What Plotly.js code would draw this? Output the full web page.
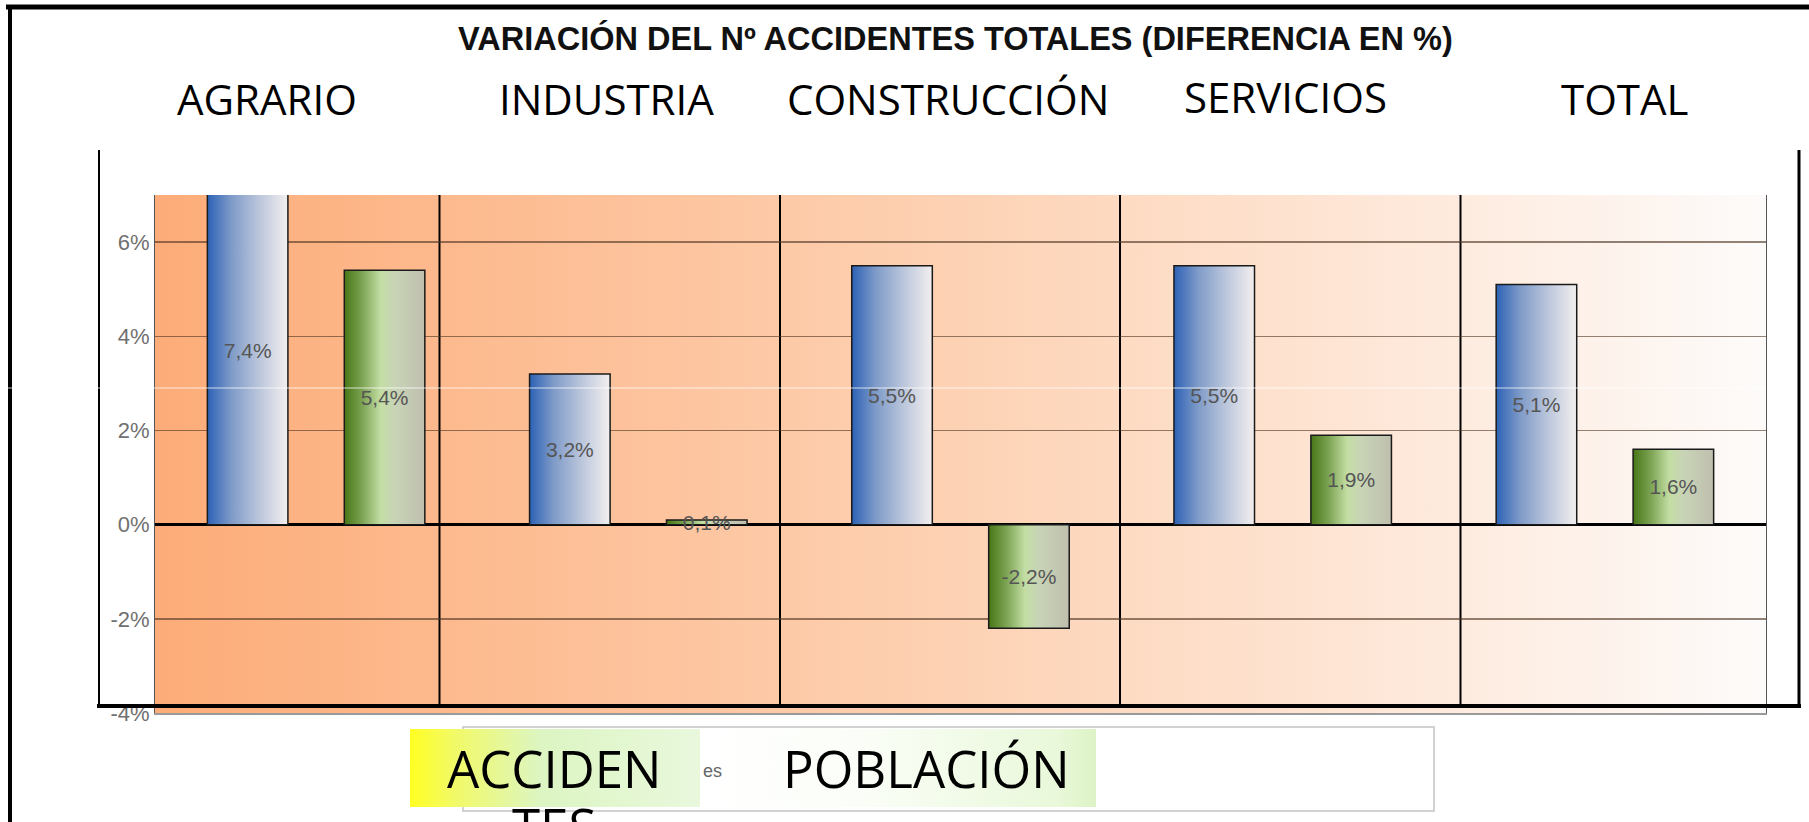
<!DOCTYPE html>
<html>
<head>
<meta charset="utf-8">
<script src="https://cdn.plot.ly/plotly-3.0.1.min.js"></script>
<style>
  html, body { margin: 0; padding: 0; background: #fff; }
  #chart { width: 1809px; height: 822px; }
</style>
</head>
<body>
<div id="chart"></div>
<script>
const CHART = document.getElementById("chart");

// data
var categories = ["Agrario", "Industria", "Construcción", "Servicios", "Total"];
var accidentes = [7.4, 3.2, 5.5, 5.5, 5.1];
var poblacion = [5.4, 0.1, -2.2, 1.9, 1.6];
var headerLabels = ["AGRARIO", "INDUSTRIA", "CONSTRUCCIÓN", "SERVICIOS", "TOTAL"];
var yTickVals = [-4, -2, 0, 2, 4, 6];
var yTickText = ["-4%", "-2%", "0%", "2%", "4%", "6%"];

// page geometry (pixels)
var W = 1809, H = 822;
var M = { l: 155, r: 43, t: 195, b: 109 };
function px(x) { return (x - M.l) / (W - M.l - M.r); }
function py(y) { return (H - M.b - y) / (H - M.t - M.b); }

function pct(v) { return v.toFixed(1).replace(".", ",") + "%"; }

var headerX = [267, 606, 948, 1285, 1624];
var headerY = [98, 98, 98, 96, 98];

var traces = [
    {
        type: "bar",
        name: "ACCIDENTES",
        x: categories,
        y: accidentes,
        text: accidentes.map(pct),
        width: 0.25,
        offset: -0.3375,
        marker: { color: "#7f9bc8", line: { color: "#1a1a1a", width: 1.5 } },
        textposition: "inside",
        insidetextanchor: "middle",
        constraintext: "none",
        textangle: 0,
        insidetextfont: { family: "Liberation Sans, Arial, sans-serif", size: 21, color: "#555" },
        hoverinfo: "skip"
    },
    {
        type: "bar",
        name: "POBLACIÓN",
        x: categories,
        y: poblacion,
        text: poblacion.map(pct),
        width: 0.25,
        offset: 0.0875,
        marker: { color: "#9dbb7a", line: { color: "#1a1a1a", width: 1.5 } },
        textposition: "inside",
        insidetextanchor: "middle",
        constraintext: "none",
        textangle: 0,
        insidetextfont: { family: "Liberation Sans, Arial, sans-serif", size: 21, color: "#555" },
        hoverinfo: "skip"
    }
];

var annotations = [
    {
        text: "<b>VARIACIÓN DEL Nº ACCIDENTES TOTALES (DIFERENCIA EN %)</b>",
        xref: "paper", yref: "paper", x: px(955), y: py(38),
        xanchor: "center", yanchor: "middle", showarrow: false,
        font: { family: "Liberation Sans, Arial, sans-serif", size: 32.5, color: "#111" }
    },
    {
        text: "ACCIDEN",
        xref: "paper", yref: "paper", x: px(554), y: py(768),
        xanchor: "center", yanchor: "middle", showarrow: false,
        font: { family: "Open Sans, sans-serif", size: 51, color: "#000" }
    },
    {
        text: "TES",
        xref: "paper", yref: "paper", x: px(554), y: py(826),
        xanchor: "center", yanchor: "middle", showarrow: false,
        font: { family: "Open Sans, sans-serif", size: 51, color: "#000" }
    },
    {
        text: "POBLACIÓN",
        xref: "paper", yref: "paper", x: px(926), y: py(768),
        xanchor: "center", yanchor: "middle", showarrow: false,
        font: { family: "Open Sans, sans-serif", size: 51, color: "#000" }
    },
    {
        text: "es",
        xref: "paper", yref: "paper", x: px(712), y: py(771),
        xanchor: "center", yanchor: "middle", showarrow: false,
        font: { family: "Liberation Sans, Arial, sans-serif", size: 18, color: "#666" }
    }
];
headerLabels.forEach(function (lab, i) {
    annotations.push({
        text: lab,
        xref: "paper", yref: "paper", x: px(headerX[i]), y: py(headerY[i]),
        xanchor: "center", yanchor: "middle", showarrow: false,
        font: { family: "Open Sans, sans-serif", size: 42, color: "#000" }
    });
});

function hline(y, x0, x1, color, width, layer) {
    return { type: "line", xref: "paper", yref: "paper", x0: px(x0), x1: px(x1), y0: py(y), y1: py(y),
             line: { color: color, width: width }, layer: layer || "above" };
}
function vline(x, y0, y1, color, width, layer) {
    return { type: "line", xref: "paper", yref: "paper", x0: px(x), x1: px(x), y0: py(y0), y1: py(y1),
             line: { color: color, width: width }, layer: layer || "above" };
}

var shapes = [
    // legend frame (0) and the two coloured label boxes (1, 2)
    { type: "rect", xref: "paper", yref: "paper", x0: px(463), x1: px(1434), y0: py(727), y1: py(811),
      fillcolor: "#fff", line: { color: "#c4c4c4", width: 1.5 }, layer: "below" },
    { type: "rect", xref: "paper", yref: "paper", x0: px(410), x1: px(700), y0: py(729), y1: py(807),
      fillcolor: "#eef86a", line: { width: 0 }, layer: "below" },
    { type: "rect", xref: "paper", yref: "paper", x0: px(700), x1: px(1096), y0: py(729), y1: py(807),
      fillcolor: "#f2fbe8", line: { width: 0 }, layer: "below" },
    // dividers inside the plot
    vline(439.5, 195, 706, "#000", 2, "below"),
    vline(780, 195, 706, "#000", 2, "below"),
    vline(1120, 195, 706, "#000", 2, "below"),
    vline(1460.5, 195, 706, "#000", 2, "below"),
    // frame of the slide
    hline(7, 6, 1809, "#000", 5),
    vline(10, 5, 822, "#000", 4),
    vline(99, 150, 706, "#000", 2),
    vline(1799, 150, 706, "#000", 3),
    hline(706, 97, 1801, "#000", 4),
    hline(388, 8, 1766, "rgba(255,255,255,0.75)", 1)
];

var layout = {
    width: W,
    height: H,
    margin: M,
    paper_bgcolor: "#fff",
    plot_bgcolor: "#fdd0b0",
    showlegend: false,
    barmode: "overlay",
    xaxis: {
        type: "category",
        range: [-0.5, 4.5],
        showticklabels: false,
        showgrid: false,
        zeroline: false,
        showline: true,
        linecolor: "#9a9a9a",
        linewidth: 1.5,
        fixedrange: true
    },
    yaxis: {
        range: [-4, 7],
        tickvals: yTickVals,
        ticktext: yTickText,
        tickfont: { family: "Liberation Sans, Arial, sans-serif", size: 22, color: "#707070" },
        showgrid: true,
        gridcolor: "rgba(80,55,35,0.62)",
        gridwidth: 1.5,
        zeroline: true,
        zerolinecolor: "#000",
        zerolinewidth: 3.5,
        showline: true,
        mirror: true,
        linecolor: "#555",
        linewidth: 1,
        ticks: "",
        fixedrange: true
    },
    annotations: annotations,
    shapes: shapes
};

function addGradient(defs, id, stops) {
    var NS = "http://www.w3.org/2000/svg";
    var g = document.createElementNS(NS, "linearGradient");
    g.setAttribute("id", id);
    g.setAttribute("x1", "0"); g.setAttribute("x2", "1");
    g.setAttribute("y1", "0"); g.setAttribute("y2", "0");
    stops.forEach(function (s) {
        var st = document.createElementNS(NS, "stop");
        st.setAttribute("offset", s[0]);
        st.setAttribute("stop-color", s[1]);
        g.appendChild(st);
    });
    defs.appendChild(g);
}

Plotly.newPlot(CHART, traces, layout, { staticPlot: true }).then(function (gd) {
    var svg = gd.querySelector(".main-svg");
    var defs = document.createElementNS("http://www.w3.org/2000/svg", "defs");
    svg.insertBefore(defs, svg.firstChild);

    addGradient(defs, "gBg", [[0, "#fcac78"], [0.2, "#fdbb90"], [0.5, "#fdd2b4"], [0.75, "#fee6d6"], [1, "#fdfbfa"]]);
    addGradient(defs, "gBlue", [[0, "#2d62b6"], [0.3, "#7f9bc8"], [0.65, "#bcc7dc"], [1, "#f3efef"]]);
    addGradient(defs, "gGreen", [[0, "#477716"], [0.22, "#7ca353"], [0.45, "#c3dea4"], [0.62, "#c8d4b6"], [1, "#bfbfae"]]);
    addGradient(defs, "gAcc", [[0, "#ffff22"], [0.15, "#f2fa66"], [0.45, "#dcf5c2"], [1, "#e9f8dd"]]);
    addGradient(defs, "gPob", [[0, "#ffffff"], [0.4, "#fbfef8"], [0.9, "#e9f8da"], [1, "#ddf3c6"]]);

    var bg = gd.querySelector(".bglayer .bg");
    if (bg) bg.style.fill = "url(#gBg)";

    var barTraces = gd.querySelectorAll(".barlayer .trace");
    ["gBlue", "gGreen"].forEach(function (id, i) {
        if (!barTraces[i]) return;
        barTraces[i].querySelectorAll(".point path").forEach(function (p) {
            p.style.fill = "url(#" + id + ")";
        });
    });

    var acc = gd.querySelector('.shapelayer path[data-index="1"]');
    if (acc) acc.style.fill = "url(#gAcc)";
    var pob = gd.querySelector('.shapelayer path[data-index="2"]');
    if (pob) pob.style.fill = "url(#gPob)";
});
</script>
</body>
</html>
